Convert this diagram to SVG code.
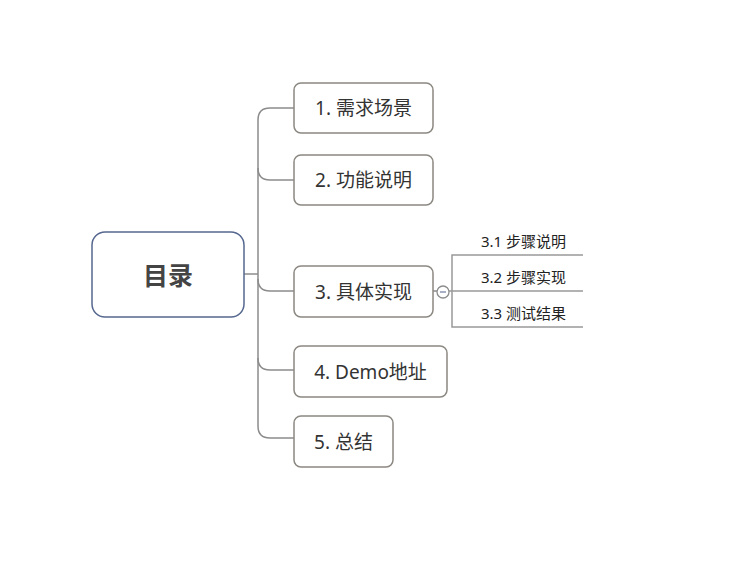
<svg xmlns="http://www.w3.org/2000/svg" width="729" height="576" viewBox="0 0 729 576">
<style>
.box{fill:#fff;stroke:#8c8882;stroke-width:1.5}
.root{fill:#fff;stroke:#56688f;stroke-width:1.5}
.t{font-family:"Noto Sans","Noto Sans CJK SC",sans-serif;font-size:19px;fill:#333;text-anchor:middle;dominant-baseline:central}
.rt{font-family:"Noto Sans","Noto Sans CJK SC",sans-serif;font-size:25px;font-weight:bold;fill:#444;text-anchor:middle;dominant-baseline:central}
.st{font-family:"Noto Sans","Noto Sans CJK SC",sans-serif;font-size:15px;fill:#222;dominant-baseline:central}
.c{fill:none;stroke:#8c8c8c;stroke-width:1.5}
.s{fill:none;stroke:#999;stroke-width:1.5}
</style>
<rect width="729" height="576" fill="#fff"/>
<g id="connectors">
<path class="c" d="M244 274 H258"/>
<path class="c" d="M294 108 H270 Q258 108 258 120 V426 Q258 438 270 438 H294"/>
<path class="c" d="M258 168 Q258 180 270 180 H294"/>
<path class="c" d="M258 279 Q258 291 270 291 H294"/>
<path class="c" d="M258 358 Q258 370 270 370 H294"/>
<path class="c" d="M433 291 H437"/>
<path class="s" d="M449 291 H583"/>
<path class="s" d="M583 255 H452 V327 H583"/>
</g>
<g id="root">
<rect class="root" x="92" y="232" width="152" height="85" rx="13"/>
<text class="rt" x="168" y="275">目录</text>
</g>
<g id="n1">
<rect class="box" x="294" y="83" width="139" height="50" rx="7"/>
<text class="t" x="363.5" y="108">1. 需求场景</text>
</g>
<g id="n2">
<rect class="box" x="294" y="155" width="139" height="50" rx="7"/>
<text class="t" x="363.5" y="180">2. 功能说明</text>
</g>
<g id="n3">
<rect class="box" x="294" y="266" width="139" height="51" rx="7"/>
<text class="t" x="363.5" y="292">3. 具体实现</text>
<circle cx="443" cy="292" r="6" fill="#fff" stroke="#8c8c8c" stroke-width="1.3"/>
<path d="M440 292 H446" stroke="#7a86a8" stroke-width="1.3"/>
</g>
<g id="n31"><text class="st" x="481" y="241">3.1 步骤说明</text></g>
<g id="n32"><text class="st" x="481" y="277">3.2 步骤实现</text></g>
<g id="n33"><text class="st" x="481" y="313">3.3 测试结果</text></g>
<g id="n4">
<rect class="box" x="294" y="346" width="153" height="51" rx="7"/>
<text class="t" x="370.5" y="372">4. Demo地址</text>
</g>
<g id="n5">
<rect class="box" x="294" y="416" width="99" height="51" rx="7"/>
<text class="t" x="343.5" y="442">5. 总结</text>
</g>
</svg>
